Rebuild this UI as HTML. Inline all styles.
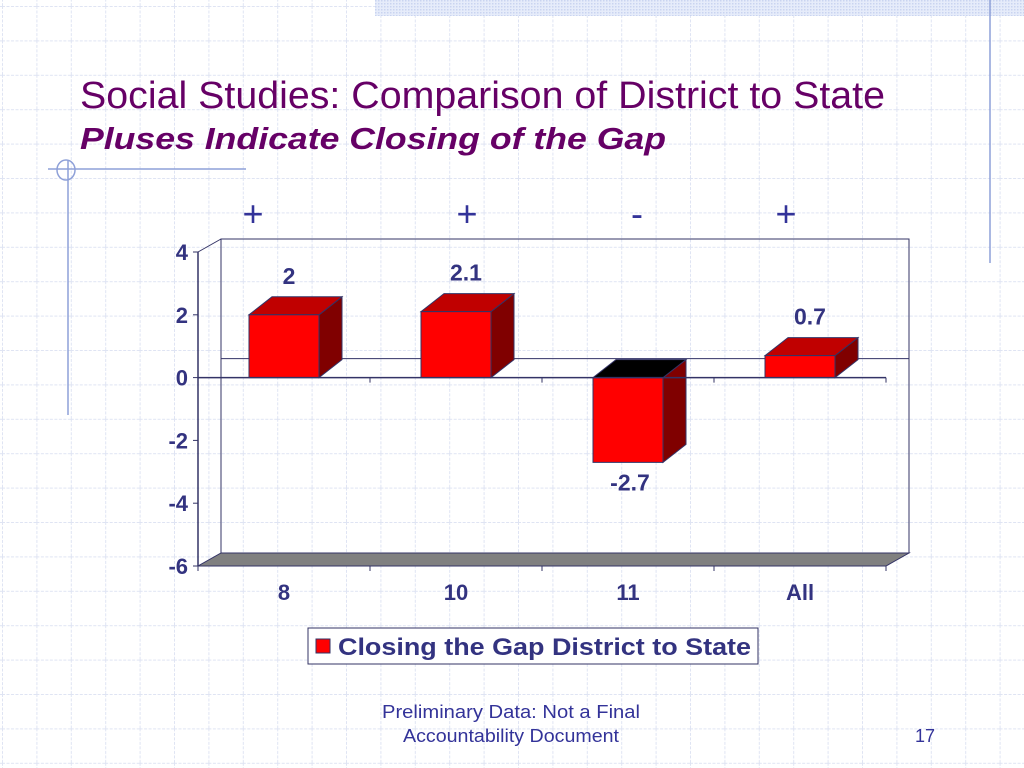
<!DOCTYPE html>
<html><head><meta charset="utf-8"><style>
html,body{margin:0;padding:0;background:#fff;}
svg{display:block;font-family:"Liberation Sans",sans-serif;}
</style></head><body>
<svg id="slide" width="1024" height="768" viewBox="0 0 1024 768" xmlns="http://www.w3.org/2000/svg">
<defs>
<pattern id="grid" width="34.4" height="34.4" patternUnits="userSpaceOnUse" x="2" y="6">
<path d="M0 0.5H34.4M0.5 0V34.4" stroke="#dfe4f3" stroke-width="1" stroke-dasharray="3 1.5" fill="none"/>
</pattern>
<pattern id="dots" width="3" height="3" patternUnits="userSpaceOnUse">
<rect width="3" height="3" fill="#e6ecfa"/><rect width="1.5" height="1.5" fill="#c9d4f0"/>
</pattern>
</defs>
<rect width="1024" height="768" fill="#fff"/>
<rect width="1024" height="768" fill="url(#grid)"/>
<rect x="375" y="0" width="649" height="16" fill="url(#dots)"/>
<line x1="990" y1="0" x2="990" y2="263" stroke="#8ea0d8" stroke-width="1.5"/>
<g stroke="#8ea0d8" stroke-width="1.5" fill="none">
<line x1="48" y1="169" x2="246" y2="169"/>
<line x1="68" y1="160" x2="68" y2="415"/>
<ellipse cx="66" cy="170" rx="9" ry="10"/>
</g>
<text x="80" y="108" font-size="38" fill="#660066" textLength="805" lengthAdjust="spacingAndGlyphs">Social Studies: Comparison of District to State</text>
<text x="80" y="149" font-size="31" font-weight="bold" font-style="italic" fill="#660066" textLength="586" lengthAdjust="spacingAndGlyphs">Pluses Indicate Closing of the Gap</text>
<g id="signs" font-size="36" fill="#333399" text-anchor="middle"></g>
<g id="chart"></g>
<g>
<rect x="308" y="628" width="450" height="36" fill="#fff" stroke="#333366" stroke-width="1"/>
<rect x="316" y="639" width="14" height="14" fill="#ff0000" stroke="#333366"/>
<text x="338" y="655" font-size="24" font-weight="bold" fill="#333380" textLength="413" lengthAdjust="spacingAndGlyphs">Closing the Gap District to State</text>
</g>
<text x="511" y="718" font-size="18" fill="#333399" text-anchor="middle" textLength="258" lengthAdjust="spacingAndGlyphs">Preliminary Data:  Not a Final</text>
<text x="511" y="742" font-size="18" fill="#333399" text-anchor="middle" textLength="216" lengthAdjust="spacingAndGlyphs">Accountability Document</text>
<text x="925" y="742" font-size="18" fill="#333399" text-anchor="middle">17</text>
</svg>
<script>
const categories = ["8","10","11","All"];
const values = [2, 2.1, -2.7, 0.7];
const valueLabels = ["2","2.1","-2.7","0.7"];
const yTicks = [4,2,0,-2,-4,-6];
const signs = ["+","+","-","+"];

const NS="http://www.w3.org/2000/svg";
const X0=198, X1=886, DX=23, DY=-13, BDX=23, BDY=-18;
const yMin=-6, yMax=4, yTop=252, yBot=566;
function y(v){return yBot-(v-yMin)/(yMax-yMin)*(yBot-yTop);}
const band=(X1-X0)/categories.length;
function xc(i){return X0+band*(i+0.5);}
const chart=document.getElementById('chart');
function mk(tag,attrs,parent){const e=document.createElementNS(NS,tag);for(const k in attrs)e.setAttribute(k,attrs[k]);(parent||chart).appendChild(e);return e;}
const ax="#333366";
let w=mk('polygon',{points:`${X0+DX},${y(yMax)+DY} ${X1+DX},${y(yMax)+DY} ${X1+DX},${yBot+DY} ${X0+DX},${yBot+DY}`,fill:'none',stroke:ax,'stroke-width':1});


mk('line',{x1:X0,y1:y(yMax),x2:X0+DX,y2:y(yMax)+DY,stroke:ax});
let fl=mk('polygon',{points:`${X0},${yBot} ${X1},${yBot} ${X1+DX},${yBot+DY} ${X0+DX},${yBot+DY}`,fill:'#808080',stroke:ax});


let bz=mk('line',{x1:X0+DX,y1:y(0)-19,x2:X1+DX,y2:y(0)-19,stroke:ax,'stroke-width':1});


let ya=mk('line',{x1:X0,y1:yTop,x2:X0,y2:yBot,stroke:ax,'stroke-width':1.5});


yTicks.forEach(t=>{
  mk('line',{x1:X0-5,y1:y(t),x2:X0,y2:y(t),stroke:ax});
  const tx=mk('text',{x:X0-10,y:y(t)+8,'font-size':22,'font-weight':'bold',fill:'#333380','text-anchor':'end'});
  tx.textContent=String(t);
  
  
});
for(let i=0;i<=categories.length;i++){
  const x=X0+band*i;
  mk('line',{x1:x,y1:y(0),x2:x,y2:y(0)+5,stroke:ax});
  mk('line',{x1:x,y1:yBot,x2:x,y2:yBot+5,stroke:ax});
}
const BW=70;
values.forEach((v,i)=>{
  const g=mk('g',{});
  
  
  const xl=xc(i)-BW/2, xr=xl+BW;
  const yt=Math.min(y(v),y(0)), yb=Math.max(y(v),y(0));
  mk('polygon',{points:`${xr},${yt} ${xr+BDX},${yt+BDY} ${xr+BDX},${yb+BDY} ${xr},${yb}`,fill:'#800000',stroke:ax},g);
  mk('polygon',{points:`${xl},${yt} ${xl+BDX},${yt+BDY} ${xr+BDX},${yt+BDY} ${xr},${yt}`,fill:v<0?'#000000':'#c00000',stroke:ax},g);
  mk('rect',{x:xl,y:yt,width:BW,height:yb-yt,fill:'#ff0000',stroke:ax},g);
  const ly=v>=0?y(v)-31:y(v)+28;
  const t=mk('text',{x:xc(i)+(v>=0?(i==0?5:10):2),y:ly,'font-size':23,'font-weight':'bold',fill:'#333380','text-anchor':'middle'});
  t.textContent=valueLabels[i];
  
  
  const c=mk('text',{x:xc(i),y:600,'font-size':22,'font-weight':'bold',fill:'#333380','text-anchor':'middle'});
  c.textContent=categories[i];
  
  
});
let zl=mk('line',{x1:X0,y1:y(0),x2:X1,y2:y(0),stroke:ax,'stroke-width':1.5});


const sg=document.getElementById('signs');
const signX=[253,467,637,786];
signs.forEach((s,i)=>{
  const t=document.createElementNS(NS,'text');
  t.setAttribute('x',signX[i]);t.setAttribute('y',226);
  t.textContent=s;
  
  
  sg.appendChild(t);
});
</script>
</body></html>
